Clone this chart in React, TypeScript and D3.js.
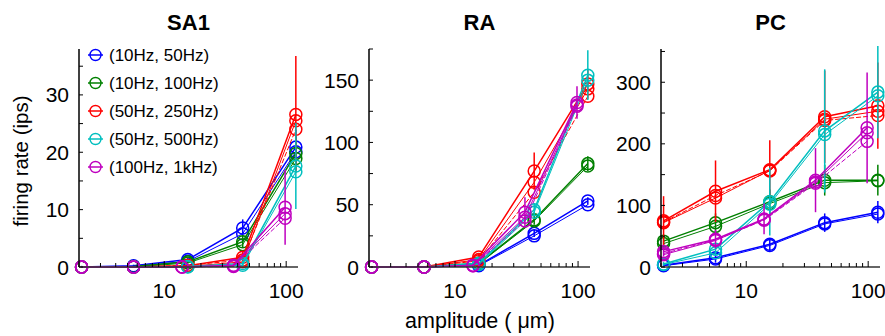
import React from "react";
import * as d3 from "d3";

// amplitudes (um) — the (100Hz, 1kHz) set sits at slightly lower amplitudes
const ampMain = [2.1, 5.6, 15.6, 44, 120];
const ampHigh = [2.1, 5.6, 14, 37, 98];

const seriesNames = ["(10Hz, 50Hz)", "(10Hz, 100Hz)", "(50Hz, 250Hz)", "(50Hz, 500Hz)", "(100Hz, 1kHz)"];
const seriesColors = ["#0000ff", "#008000", "#ff0000", "#00bfbf", "#bf00bf"];

// firing rates: one list of runs per series, first run carries the error bars
const sa1Runs = [
  [[0, 0.2, 1.3, 6.8, 20.9], [0, 0.1, 1.0, 5.8, 20.1]],
  [[0, 0.1, 0.9, 4.4, 19.8], [0, 0, 0.7, 3.9, 18.9]],
  [[0, 0, 0.2, 1.7, 26.6], [0, 0, 0.1, 0.9, 25.5], [0, 0, 0.3, 1.2, 24.0]],
  [[0, 0, 0.1, 0.6, 17.6], [0, 0, 0, 0.3, 16.6]],
  [[0, 0, 0, 0.3, 10.4], [0, 0, 0, 0.2, 9.3], [0, 0, 0, 0.1, 8.5]],
];
const sa1Err = [
  [0.2, 0.2, 0.4, 1.5, 3],
  [0.1, 0.1, 0.3, 1, 3],
  [0, 0, 0.3, 1, 10.2],
  [0, 0, 0.1, 0.5, 7.5],
  [0, 0, 0, 0.3, 6.5],
];

const raRuns = [
  [[0, 0, 1.5, 27, 53], [0, 0, 1, 25, 50]],
  [[0, 0, 3, 38, 83], [0, 0, 2.5, 37, 81]],
  [[0, 0, 8, 77, 147], [0, 0, 6, 68, 143], [0, 0, 5, 60, 137]],
  [[0, 0, 3, 46, 154], [0, 0, 2, 44, 150]],
  [[0, 0, 1.5, 44, 132], [0, 0, 1, 40, 130], [0, 0, 1, 37, 129]],
];
const raErr = [
  [0, 0, 0.5, 3, 3],
  [0, 0, 1, 4, 6],
  [0, 0, 2, 15, 12],
  [0, 0, 1, 5, 20],
  [0, 0, 1, 12, 13],
];

const pcRuns = [
  [[3, 15, 37, 72, 89], [2, 13, 35, 70, 86]],
  [[42, 72, 106, 141, 141], [38, 66, 103, 137, 140]],
  [[75, 123, 158, 244, 262], [72, 112, 157, 240, 253], [73, 116, 156, 238, 246]],
  [[5, 29, 106, 221, 284], [4, 23, 102, 215, 278]],
  [[25, 45, 78, 141, 226], [20, 43, 77, 138, 218], [22, 44, 76, 136, 204]],
];
const pcErr = [
  [3, 8, 10, 15, 18],
  [10, 15, 20, 25, 25],
  [40, 50, 48, 75, 70],
  [3, 10, 55, 100, 75],
  [8, 15, 25, 52, 90],
];

const xTickLabels = [10, 100];
const sa1Ticks = [0, 10, 20, 30];
const raTicks = [0, 50, 100, 150];
const pcTicks = [0, 100, 200, 300];

const font = "'Liberation Sans', Arial, Helvetica, sans-serif";
const top = 49;
const bottom = 267;

const panels = [
  { title: "SA1", runs: sa1Runs, err: sa1Err, ticks: sa1Ticks, yMax: 38, left: 79, right: 298 },
  { title: "RA", runs: raRuns, err: raErr, ticks: raTicks, yMax: 175, left: 369, right: 590 },
  { title: "PC", runs: pcRuns, err: pcErr, ticks: pcTicks, yMax: 354, left: 661, right: 880 },
];

function Panel({ p }: { p: typeof panels[number] }) {
  const x = d3.scaleLog().domain([2, 125]).range([p.left, p.right]);
  const y = d3.scaleLinear().domain([0, p.yMax]).range([bottom, top]);
  const step = p.ticks[1] - p.ticks[0];
  const minorY = d3.range(0, p.yMax + 0.01, step / 2);
  const minorX = x.ticks().filter(v => v >= 2 && v <= 125);

  return (
    <g>
      <text x={(p.left + p.right) / 2} y={30} textAnchor="middle" fontSize={22} fontWeight="bold">
        {p.title}
      </text>

      {p.runs.map((runs, si) => {
        const xs = si === 4 ? ampHigh : ampMain;
        const color = seriesColors[si];
        const line = d3.line<number>().x((_, i) => x(xs[i])).y(v => y(v));
        return (
          <g key={si}>
            {runs.map((r, ri) => (
              <path key={ri} d={line(r) || ""} fill="none" stroke={color}
                strokeWidth={ri === 0 ? 1.5 : 1}
                strokeDasharray={ri === 2 ? "5,2" : undefined} />
            ))}
            {runs[0].map((v, i) => (
              <line key={"e" + i} x1={x(xs[i])} x2={x(xs[i])}
                y1={y(Math.max(0, v - p.err[si][i]))} y2={y(v + p.err[si][i])}
                stroke={color} strokeWidth={1.5} />
            ))}
            {runs.map((r, ri) =>
              r.map((v, i) => (
                <circle key={ri + "-" + i} cx={x(xs[i])} cy={y(v)} r={6}
                  fill="none" stroke={color} strokeWidth={1.5} />
              ))
            )}
          </g>
        );
      })}

      {/* axes */}
      <line x1={p.left} x2={p.left} y1={top} y2={bottom} stroke="#000" strokeWidth={1.5} />
      <line x1={p.left} x2={p.right} y1={bottom} y2={bottom} stroke="#333" strokeWidth={1.5} />
      {minorY.map(v => (
        <line key={"my" + v} x1={p.left} x2={p.left + 4} y1={y(v)} y2={y(v)} stroke="#000" strokeWidth={1} />
      ))}
      {minorX.map(v => (
        <line key={"mx" + v} x1={x(v)} x2={x(v)} y1={bottom} y2={bottom - (xTickLabels.includes(v) ? 6 : 4)}
          stroke="#000" strokeWidth={1} />
      ))}
      {p.ticks.map(v => (
        <text key={"ty" + v} x={p.left - 10} y={y(v) + 7.5} textAnchor="end" fontSize={21}>{v}</text>
      ))}
      {xTickLabels.map(v => (
        <text key={"tx" + v} x={x(v)} y={298} textAnchor="middle" fontSize={21}>{v}</text>
      ))}
    </g>
  );
}

export default function App() {
  return (
    <svg width={885} height={336} style={{ position: "absolute", left: 0, top: 0, background: "#fff" }}
      fontFamily={font} fill="#000">
      {panels.map(p => <Panel key={p.title} p={p} />)}

      <text transform="translate(28,161) rotate(-90)" textAnchor="middle" fontSize={20.5}>firing rate (ips)</text>
      <text x={480} y={328} textAnchor="middle" fontSize={21.5}>amplitude ( μm)</text>

      {/* legend */}
      {seriesNames.map((n, i) => (
        <g key={n} transform={`translate(88,${55 + i * 28})`}>
          <line x1={0} x2={15} y1={0} y2={0} stroke={seriesColors[i]} strokeWidth={1.5} />
          <circle cx={7.5} cy={0} r={5.5} fill="none" stroke={seriesColors[i]} strokeWidth={1.4} />
          <text x={21} y={6} fontSize={17}>{n}</text>
        </g>
      ))}
    </svg>
  );
}
